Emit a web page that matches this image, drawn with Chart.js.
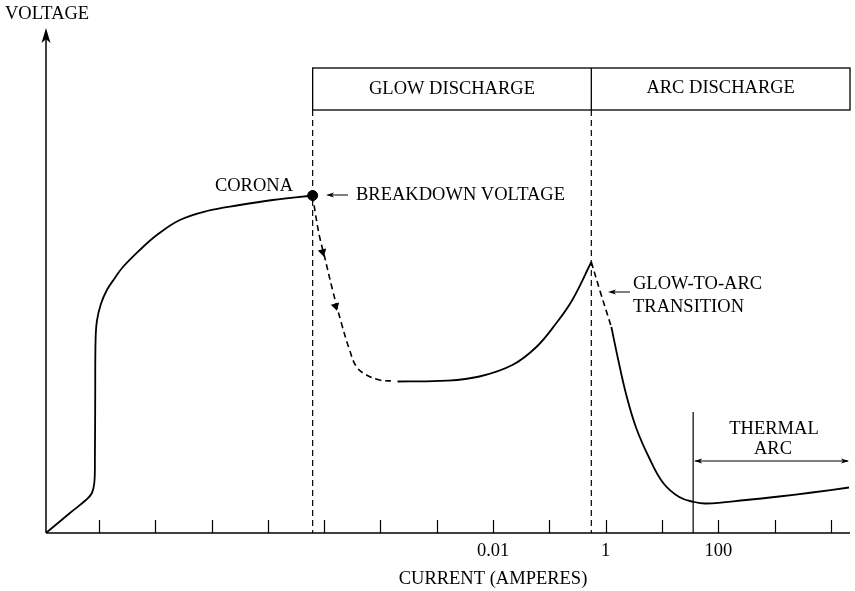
<!DOCTYPE html>
<html>
<head>
<meta charset="utf-8">
<script src="https://cdn.jsdelivr.net/npm/chart.js@4.4.1/dist/chart.umd.min.js"></script>
<style>
  html, body { margin: 0; padding: 0; background: #fff; }
  #wrap { width: 855px; height: 591px; }
</style>
</head>
<body>
<div id="wrap"><canvas id="dischargeChart" width="855" height="591"></canvas></div>
<script>
// current in amperes (log axis), voltage in arbitrary units (no scale on the figure)
const coronaCurrent = [1.15e-10, 3.06e-10, 5.88e-10, 7.52e-10, 8.32e-10, 8.49e-10, 8.60e-10, 8.73e-10, 9.22e-10, 1.085e-9, 1.387e-9, 1.92e-9, 2.67e-9, 5.33e-9, 1.07e-8, 2.74e-8, 8.24e-8, 3.17e-7, 1.22e-6, 6.25e-6];
const coronaVoltage = [0, 4.0, 6.6, 8.0, 10.2, 14.6, 26.6, 38.6, 42.4, 45.8, 48.6, 51.0, 53.2, 56.6, 59.6, 62.6, 64.4, 65.6, 66.6, 67.5];

const breakdownCurrent = [6.25e-6, 7.06e-6, 8.32e-6, 1.02e-5, 1.41e-5, 2.02e-5, 2.83e-5, 3.77e-5, 5.66e-5, 9.64e-5, 1.7e-4];
const breakdownVoltage = [67.5, 63.6, 59.2, 55.2, 48.6, 42.0, 36.6, 33.2, 31.6, 30.6, 30.4];

const glowCurrent = [2.01e-4, 1.49e-3, 5.73e-3, 0.0220, 0.0587, 0.133, 0.255, 0.555];
const glowVoltage = [30.3, 30.46, 31.3, 33.6, 37.2, 42.0, 46.6, 54.2];

const transitionCurrent = [0.555, 0.802, 1.26];
const transitionVoltage = [54.2, 48.2, 41.2];

const arcCurrent = [1.26, 1.67, 2.32, 3.48, 5.93, 10.5, 20.2, 37.2, 60.8, 311, 1200, 4610, 20900];
const arcVoltage = [41.2, 34.6, 27.6, 21.0, 15.0, 10.0, 7.2, 6.2, 5.9, 6.6, 7.3, 8.1, 9.1];

const breakdownPoint = { current: 6.25e-6, voltage: 67.5 };
const arrowCurrent = [9.4e-6, 1.6e-5];
const arrowVoltage = [56.2, 45.4];

const glowEndCurrent = 0.555;
const thermalArcStart = 35.7;

const tickValues = [1e-9, 1e-8, 1e-7, 1e-6, 1e-5, 1e-4, 1e-3, 1e-2, 1e-1, 1, 10, 100, 1000, 10000];
const tickLabels = ['', '', '', '', '', '', '', '0.01', '', '1', '', '100', '', ''];

const SERIF = "'Liberation Serif', 'Times New Roman', serif";

function toPoints(xs, ys) {
    return xs.map((v, i) => ({ x: v, y: ys[i] }));
}

function arrowHead(ctx, x, y, dx, dy, len, half) {
    const n = Math.hypot(dx, dy);
    const ux = dx / n, uy = dy / n;
    const bx = x - ux * len, by = y - uy * len;
    ctx.beginPath();
    ctx.moveTo(x, y);
    ctx.lineTo(bx - uy * half, by + ux * half);
    ctx.lineTo(x - ux * len * 0.75, y - uy * len * 0.75);
    ctx.lineTo(bx + uy * half, by - ux * half);
    ctx.closePath();
    ctx.fill();
}

function line(ctx, x1, y1, x2, y2) {
    ctx.beginPath();
    ctx.moveTo(x1, y1);
    ctx.lineTo(x2, y2);
    ctx.stroke();
}

const figureParts = {
    id: 'figureParts',
    beforeDatasetsDraw(chart) {
        const { ctx, chartArea, scales: { x } } = chart;
        const left = chartArea.left, bottom = chartArea.bottom, right = chartArea.right + 1;
        ctx.save();
        ctx.strokeStyle = '#000';
        ctx.fillStyle = '#000';

        // axes
        ctx.lineWidth = 1.5;
        line(ctx, left, bottom, right, bottom);
        line(ctx, left, bottom, left, 36);
        arrowHead(ctx, left, 28, 0, -1, 15, 4.5);

        // tick marks point up into the plot
        ctx.lineWidth = 1.2;
        tickValues.forEach(v => {
            const px = Math.round(x.getPixelForValue(v)) + 0.5;
            line(ctx, px, bottom, px, bottom - 13);
        });

        // region box
        const xb = x.getPixelForValue(breakdownPoint.current);
        const xg = x.getPixelForValue(glowEndCurrent);
        const boxTop = 68, boxBottom = 110;
        ctx.lineWidth = 1.3;
        ctx.strokeRect(xb, boxTop, right - xb, boxBottom - boxTop);
        line(ctx, xg, boxTop, xg, boxBottom);

        // dashed region boundaries
        ctx.lineWidth = 1.2;
        ctx.setLineDash([6, 4]);
        line(ctx, xb, boxBottom, xb, bottom);
        line(ctx, xg, boxBottom, xg, bottom);
        ctx.setLineDash([]);

        // thermal arc marker
        const xt = x.getPixelForValue(thermalArcStart);
        line(ctx, xt, 412, xt, bottom);
        ctx.lineWidth = 1;
        line(ctx, xt + 2, 461, right - 2, 461);
        arrowHead(ctx, xt + 1, 461, -1, 0, 8, 2.5);
        arrowHead(ctx, right - 1, 461, 1, 0, 8, 2.5);

        // pointer arrows
        line(ctx, 329, 195, 348, 195);
        arrowHead(ctx, 326, 195, -1, 0, 8, 2.5);
        line(ctx, 611, 292, 630, 292);
        arrowHead(ctx, 608, 292, -1, 0, 8, 2.5);
        ctx.restore();
    },
    afterDraw(chart) {
        const { ctx, chartArea, scales: { x } } = chart;
        const xb = x.getPixelForValue(breakdownPoint.current);
        const xg = x.getPixelForValue(glowEndCurrent);
        const right = chartArea.right + 1;
        ctx.save();
        ctx.fillStyle = '#000';
        ctx.font = '18.5px ' + SERIF;
        ctx.textBaseline = 'middle';

        ctx.textAlign = 'left';
        ctx.fillText('VOLTAGE', 5, 14);
        ctx.fillText('BREAKDOWN VOLTAGE', 356, 195);
        ctx.fillText('GLOW-TO-ARC', 633, 284);
        ctx.fillText('TRANSITION', 633, 307);

        ctx.textAlign = 'right';
        ctx.fillText('CORONA', 293, 186);

        ctx.textAlign = 'center';
        ctx.fillText('GLOW DISCHARGE', (xb + xg) / 2, 89);
        ctx.fillText('ARC DISCHARGE', (xg + right) / 2, 88);
        ctx.fillText('THERMAL', 774, 429);
        ctx.fillText('ARC', 773, 449);
        ctx.fillText('CURRENT (AMPERES)', 493, 579);
        ctx.restore();
    }
};

function createDischargeChart() {
    const ctx = document.getElementById('dischargeChart');

    const solid = { borderColor: '#000', borderWidth: 1.8, pointRadius: 0, tension: 0.4, fill: false };
    const dashed = Object.assign({}, solid, { borderDash: [6, 4], borderWidth: 1.6 });

    const data = {
        datasets: [
            Object.assign({ label: 'Corona', data: toPoints(coronaCurrent, coronaVoltage) }, solid),
            Object.assign({ label: 'Breakdown', data: toPoints(breakdownCurrent, breakdownVoltage) }, dashed),
            Object.assign({ label: 'Glow discharge', data: toPoints(glowCurrent, glowVoltage) }, solid),
            Object.assign({ label: 'Glow-to-arc transition', data: toPoints(transitionCurrent, transitionVoltage) }, dashed),
            Object.assign({ label: 'Arc discharge', data: toPoints(arcCurrent, arcVoltage) }, solid),
            {
                label: 'Breakdown voltage',
                data: [{ x: breakdownPoint.current, y: breakdownPoint.voltage }],
                showLine: false,
                pointRadius: 5,
                pointBackgroundColor: '#000',
                pointBorderColor: '#000',
                clip: false
            },
            {
                label: 'Direction',
                data: toPoints(arrowCurrent, arrowVoltage),
                showLine: false,
                pointStyle: 'triangle',
                pointRadius: 5,
                pointRotation: [166, 165],
                pointBackgroundColor: '#000',
                pointBorderColor: '#000',
                pointBorderWidth: 0
            }
        ]
    };

    const options = {
        responsive: false,
        animation: false,
        events: [],
        layout: { padding: { left: 46, right: 5, top: 33, bottom: 0 } },
        scales: {
            x: {
                type: 'logarithmic',
                min: 1.15e-10,
                max: 2.09e4,
                grid: { display: false, drawTicks: false },
                border: { display: false },
                afterFit(scale) { scale.height = 58; },
                afterBuildTicks(scale) {
                    scale.ticks = tickValues.map(v => ({ value: v }));
                },
                ticks: {
                    autoSkip: false,
                    maxRotation: 0,
                    padding: 7,
                    color: '#000',
                    font: { family: SERIF, size: 18.5 },
                    callback(value) {
                        const i = tickValues.findIndex(t => Math.abs(t - value) / t < 1e-6);
                        return i >= 0 ? tickLabels[i] : '';
                    }
                }
            },
            y: {
                type: 'linear',
                min: 0,
                max: 100,
                display: false
            }
        },
        plugins: {
            legend: { display: false },
            tooltip: { enabled: false }
        }
    };

    new Chart(ctx, {
        type: 'line',
        data: data,
        options: options,
        plugins: [figureParts]
    });
}

document.addEventListener('DOMContentLoaded', () => {
    createDischargeChart();
});
</script>
</body>
</html>
